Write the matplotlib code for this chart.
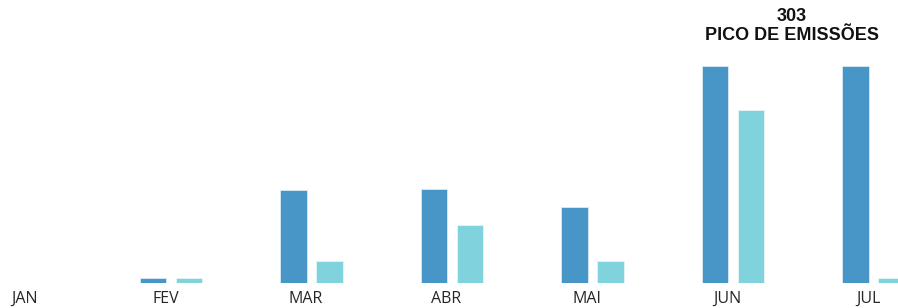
import matplotlib
matplotlib.use("Agg")
import matplotlib.pyplot as plt
import matplotlib.transforms as mtransforms
import numpy as np

months = ["JAN", "FEV", "MAR", "ABR", "MAI", "JUN", "JUL"]
series_a = [0, 8, 130, 132, 106, 303, 303]
series_b = [0, 8, 31, 81, 31, 241, 8]
peak_value = 303
peak_label = "PICO DE EMISSÕES"

color_a = "#4796C7"
color_b = "#80D2DC"

fig = plt.figure(figsize=(8.98, 3.08), dpi=100)
ax = fig.add_axes([0, 0.0802, 1, 0.9198])

x = np.arange(len(months))
w = 0.189
off = 0.128
ax.bar(x - off + 0.012, series_a, width=w, color=color_a, edgecolor="#d8ecf6", linewidth=0.6)
ax.bar(x + off + 0.012, series_b, width=w, color=color_b, edgecolor="#e4f6f8", linewidth=0.6)

ax.set_xlim(-0.206, 6.185)
ax.set_ylim(0, 394.6)
ax.set_xticks(x)
ax.set_xticklabels(months, fontfamily="Open Sans", fontsize=11.5, color="#262626")
ax.tick_params(axis="x", length=0, pad=5.5)
shift = mtransforms.ScaledTranslation(-4 / 100, 0, fig.dpi_scale_trans)
for lbl in ax.get_xticklabels():
    lbl.set_transform(lbl.get_transform() + shift)
ax.set_yticks([])
for s in ax.spines.values():
    s.set_visible(False)

ax.text(5.43, 1.0 - 26 / 283.3, f"{peak_value}\n{peak_label}",
        transform=ax.get_xaxis_transform(), ha="center", va="center",
        fontfamily="Liberation Sans", fontweight="bold", fontsize=13,
        color="#111111", linespacing=1.15)

fig.savefig("out.png", dpi=100)
